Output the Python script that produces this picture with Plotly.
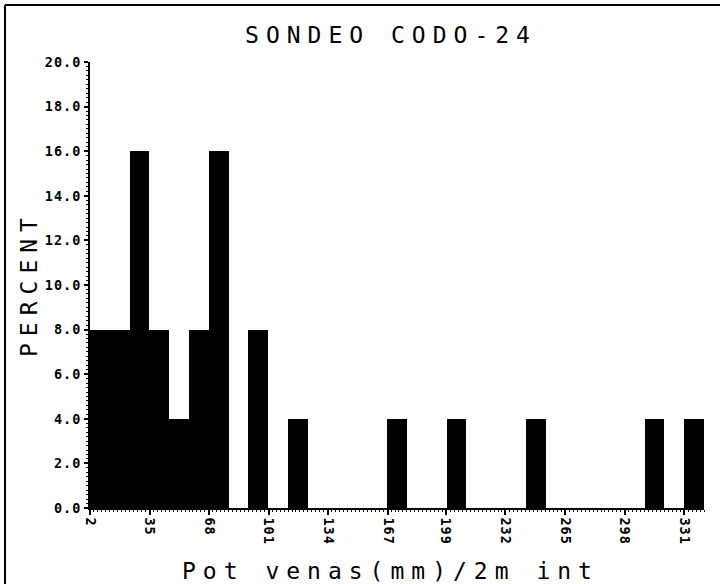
import plotly.graph_objects as go

# ---- data ----
bin_start = 2.0
bin_width = 329.0 / 30.0
percent = [8, 8, 16, 8, 4, 8, 16, 0, 8, 0, 4, 0, 0, 0, 0, 4, 0, 0, 4, 0,
           0, 0, 4, 0, 0, 0, 0, 0, 4, 0, 4]
x_tick_labels = ["2", "35", "68", "101", "134", "167", "199", "232", "265", "298", "331"]
y_tick_values = [0, 2, 4, 6, 8, 10, 12, 14, 16, 18, 20]
title_text = "SONDEO CODO-24"
x_title = "Pot venas(mm)/2m int"
y_title = "PERCENT"

n_bins = len(percent)
centers = [bin_start + (i + 0.5) * bin_width for i in range(n_bins)]
x_end = bin_start + n_bins * bin_width

MONO = "DejaVu Sans Mono"

fig = go.Figure()
fig.add_trace(go.Bar(
    x=centers, y=percent, width=[bin_width] * n_bins,
    marker=dict(color="#000000", line=dict(width=0)),
    showlegend=False,
))

# plot area pixel geometry (for paper-coordinate conversions)
L, R, T, B = 90, 16, 62, 76
W, H = 720, 584
pw, ph = W - L - R, H - T - B

def px_x(px):
    return (px - L) / pw

def px_y(py):
    return (H - B - py) / ph

fig.update_layout(
    width=W, height=H,
    margin=dict(l=L, r=R, t=T, b=B, pad=0),
    paper_bgcolor="white", plot_bgcolor="white",
    bargap=0,
    title=dict(text=title_text, x=391 / W, xanchor="center",
               y=1 - 35 / H, yanchor="middle", yref="container",
               font=dict(family=MONO, size=23, color="black")),
    xaxis=dict(
        range=[bin_start, x_end],
        tickmode="array",
        tickvals=[float(v) for v in x_tick_labels],
        ticktext=x_tick_labels,
        tickangle=90,
        ticks="outside", ticklen=5, tickwidth=1.5, tickcolor="black",
        showline=True, linecolor="black", linewidth=1.5,
        showgrid=False, zeroline=False,
        tickfont=dict(family=MONO, size=13.5, color="black", weight="bold"),
        minor=dict(ticks="outside", tick0=bin_start, dtick=bin_width / 5,
                   ticklen=2, tickwidth=1, tickcolor="black", showgrid=False),
    ),
    yaxis=dict(
        range=[0, 20],
        tickmode="array",
        tickvals=y_tick_values,
        tickformat=".1f",
        ticks="outside", ticklen=4, tickwidth=1.5, tickcolor="black",
        showline=True, linecolor="black", linewidth=2,
        showgrid=False, zeroline=False,
        tickfont=dict(family=MONO, size=13.5, color="black", weight="bold"),
        minor=dict(ticks="outside", tick0=0, dtick=0.2,
                   ticklen=2, tickwidth=1, tickcolor="black", showgrid=False),
    ),
    annotations=[
        dict(text=x_title, xref="paper", yref="paper",
             x=px_x(390), y=px_y(571), xanchor="center", yanchor="middle",
             showarrow=False,
             font=dict(family=MONO, size=23, color="black")),
        dict(text=y_title, xref="paper", yref="paper",
             x=px_x(28.5), y=px_y(284), xanchor="center", yanchor="middle",
             textangle=-90, showarrow=False,
             font=dict(family=MONO, size=23, color="black")),
    ],
    shapes=[
        dict(type="line", xref="paper", yref="paper",
             x0=px_x(5), x1=px_x(720), y0=px_y(5), y1=px_y(5),
             line=dict(color="black", width=2)),
        dict(type="line", xref="paper", yref="paper",
             x0=px_x(5), x1=px_x(5), y0=px_y(5), y1=px_y(584),
             line=dict(color="black", width=2)),
    ],
)

post_script = """
var gd = document.getElementById('{plot_id}');
function applySpacing(){
  gd.querySelectorAll('.gtitle, .annotation-text').forEach(function(t){ t.style.letterSpacing = '7px'; });
  gd.querySelectorAll('.xtick text, .ytick text').forEach(function(t){ t.style.letterSpacing = '1px'; });
}
applySpacing();
setTimeout(applySpacing, 50);
"""

fig.write_html("out.html", post_script=post_script)
